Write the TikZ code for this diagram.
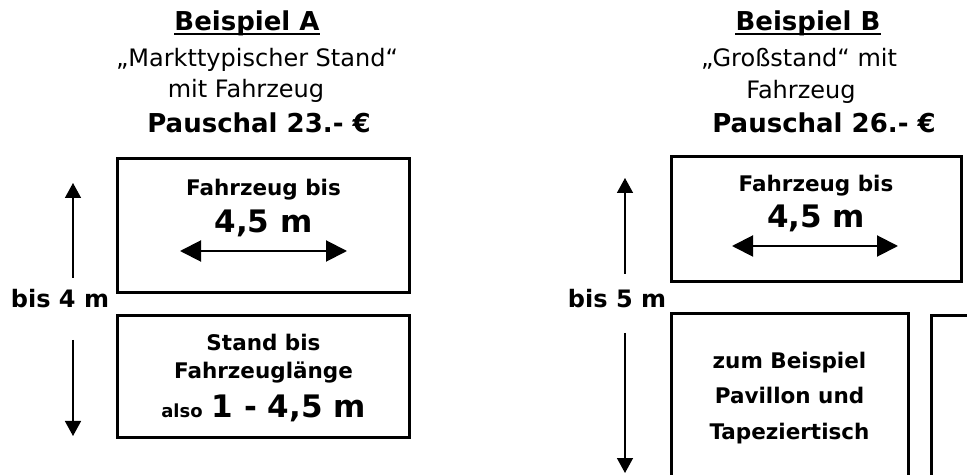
\documentclass[tikz,border=0pt]{standalone}
\usepackage{fontspec}
\setmainfont{DejaVu Sans}
\usetikzlibrary{arrows.meta}
\newcommand{\fs}[1]{\fontsize{#1bp}{#1bp}\selectfont}
\tikzset{
  x=1bp, y=-1bp,
  box/.style={draw, line width=3bp, inner sep=0pt},
  txt/.style={anchor=base, inner sep=0pt, font=\bfseries\fs{21.5}},
  big/.style={anchor=base, inner sep=0pt, font=\bfseries\fs{31}},
  head/.style={anchor=base, inner sep=0pt, font=\bfseries\fs{26}},
  sub/.style={anchor=base, inner sep=0pt, font=\fs{24}},
  dim/.style={anchor=base, inner sep=0pt, font=\bfseries\fs{24}},
  uline/.style={line width=2bp},
  harrow/.style={line width=2bp, {Triangle[length=21bp,width=21bp]}-{Triangle[length=21bp,width=21bp]}},
  varrow/.style={line width=1.5bp, -{Triangle[length=15bp,width=16bp]}}
}
\begin{document}
\begin{tikzpicture}
\path[use as bounding box, clip] (0,0) rectangle (967,475);
\fill[white] (0,0) rectangle (967,475);

% ---------- Beispiel A ----------
\node[head] (tA) at (247,31) {Beispiel A};
\draw[uline] ([yshift=-3bp]tA.base west) -- ([yshift=-3bp]tA.base east);
\node[sub] (sA1) at (257,67) {„Markttypischer Stand“};
\node[sub] (sA2) at (246,98) {mit Fahrzeug};
\node[head] (pA) at (259,133) {Pauschal 23.- €};

\node[box, minimum width=291bp, minimum height=134bp] (A1) at (263.5,226) {};
\node[txt] (A1a) at (263.5,196) {Fahrzeug bis};
\node[big] (A1b) at (263.5,233) {4,5 m};
\coordinate (A1l) at (180,251);
\coordinate (A1r) at (347,251);
\draw[harrow] (A1l) -- (A1r);

\node[box, minimum width=291bp, minimum height=121bp] (A2) at (263.5,376.5) {};
\node[txt] (A2a) at (263.5,351) {Stand bis};
\node[txt] (A2b) at (263.5,379) {Fahrzeuglänge};
\node[anchor=base, inner sep=0pt] (A2c) at (263.5,417) {{\bfseries\fs{18}also}\hspace{9bp}{\bfseries\fs{31}1 - 4,5 m}};

\node[dim] (dA) at (60,308) {bis 4 m};
\coordinate (dAt1) at (73,278);
\coordinate (dAt2) at (73,183);
\coordinate (dAb1) at (73,340);
\coordinate (dAb2) at (73,436);
\draw[varrow] (dAt1) -- (dAt2);
\draw[varrow] (dAb1) -- (dAb2);

% ---------- Beispiel B ----------
\node[head] (tB) at (808,31) {Beispiel B};
\draw[uline] ([yshift=-3bp]tB.base west) -- ([yshift=-3bp]tB.base east);
\node[sub] (sB1) at (799,67) {„Großstand“ mit};
\node[sub] (sB2) at (801,99) {Fahrzeug};
\node[head] (pB) at (824,133) {Pauschal 26.- €};

\node[box, minimum width=290bp, minimum height=125bp] (B1) at (816,219.5) {};
\node[txt] (B1a) at (816,192) {Fahrzeug bis};
\node[big] (B1b) at (816,228) {4,5 m};
\coordinate (B1l) at (732,246);
\coordinate (B1r) at (898,246);
\draw[harrow] (B1l) -- (B1r);

\node[box, minimum width=237bp, minimum height=206bp] (B2) at (789.5,417) {};
\node[txt] (B2a) at (789.5,369) {zum Beispiel};
\node[txt] (B2b) at (789.5,403) {Pavillon und};
\node[txt] (B2c) at (789.5,439) {Tapeziertisch};

\node[box, minimum width=80bp, minimum height=204bp] (B3) at (971,418) {};

\node[dim] (dB) at (617,308) {bis 5 m};
\coordinate (dBt1) at (625,274);
\coordinate (dBt2) at (625,178);
\coordinate (dBb1) at (625,333);
\coordinate (dBb2) at (625,473);
\draw[varrow] (dBt1) -- (dBt2);
\draw[varrow] (dBb1) -- (dBb2);
\end{tikzpicture}
\end{document}
